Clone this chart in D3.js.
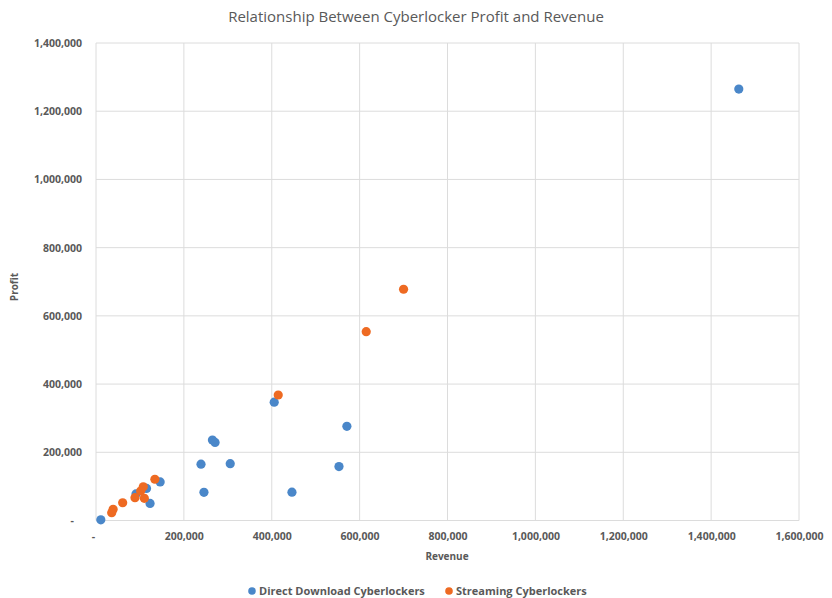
<!DOCTYPE html>
<html><head><meta charset="utf-8">
<script src="https://cdn.jsdelivr.net/npm/d3@7"></script>
<style>body{margin:0;background:#fff}svg{display:block}</style>
</head><body><svg id="c" width="832" height="598"></svg>
<script>
const title = "Relationship Between Cyberlocker Profit and Revenue";
const seriesNames = ["Direct Download Cyberlockers", "Streaming Cyberlockers"];
const colors = ["#4a87c9", "#ee6a22"];
const xTicks = [0,200000,400000,600000,800000,1000000,1200000,1400000,1600000];
const yTicks = [0,200000,400000,600000,800000,1000000,1200000,1400000];
const directRevenue = [11000,1463000,405600,571000,553000,446000,265000,271000,239000,305500,245700,146000,115000,123000,91000];
const directProfit  = [2000,1265000,347000,276000,158000,83000,236000,229000,165000,166500,82700,113000,94000,50000,78000];
const streamRevenue = [700000,615000,414700,134000,107600,101700,88700,110000,60700,39000,35700];
const streamProfit  = [678000,553500,368000,121000,99000,86500,67000,65000,52000,33000,23000];

const svg = d3.select("#c");
const x = d3.scaleLinear().domain([0,1600000]).range([96,799]);
const y = d3.scaleLinear().domain([0,1400000]).range([520.5,43]);
const fmt = v => v===0 ? "-" : d3.format(",")(v);
const font = "'Open Sans', sans-serif";
const grey = "#595959";

svg.append("g").selectAll("line").data(yTicks).join("line")
  .attr("x1",96).attr("x2",799).attr("y1",d=>y(d)).attr("y2",d=>y(d))
  .attr("stroke","#dcdcdc").attr("stroke-width",1);
svg.append("g").selectAll("line").data(xTicks).join("line")
  .attr("y1",43).attr("y2",520.5).attr("x1",d=>x(d)).attr("x2",d=>x(d))
  .attr("stroke","#dcdcdc").attr("stroke-width",1);

const yAxis = svg.append("g").attr("transform","translate(96,0)")
  .call(d3.axisLeft(y).tickValues(yTicks).tickFormat(fmt).tickSize(0).tickPadding(14));
yAxis.select(".domain").remove();
yAxis.selectAll("text").attr("font-family",font).attr("font-size",10.5).attr("font-weight","bold").attr("fill",grey)
  .attr("dx",d=>d===0?-8:0);

const xAxis = svg.append("g").attr("transform","translate(0,520.5)")
  .call(d3.axisBottom(x).tickValues(xTicks).tickFormat(fmt).tickSize(0).tickPadding(12));
xAxis.select(".domain").remove();
xAxis.selectAll("text").attr("font-family",font).attr("font-size",10.5).attr("font-weight","bold").attr("fill",grey)
  .attr("dx",d=>d===0?-3:0);

svg.append("text").attr("x",416).attr("y",22).attr("text-anchor","middle")
  .attr("font-family",font).attr("font-size",15).attr("fill",grey).text(title);
svg.append("text").attr("x",447).attr("y",560).attr("text-anchor","middle")
  .attr("font-family",font).attr("font-size",10).attr("font-weight","bold").attr("fill",grey).text("Revenue");
svg.append("text").attr("transform","translate(18,287) rotate(-90)").attr("text-anchor","middle")
  .attr("font-family",font).attr("font-size",10).attr("font-weight","bold").attr("fill",grey).text("Profit");

const series = [
  {rev: directRevenue, prof: directProfit},
  {rev: streamRevenue, prof: streamProfit}
];
series.forEach((s,i)=>{
  svg.append("g").selectAll("circle").data(s.rev.map((r,j)=>[r,s.prof[j]])).join("circle")
    .attr("cx",d=>x(d[0])).attr("cy",d=>y(d[1])).attr("r",4.6).attr("fill",colors[i]);
});

const legX = [252, 449];
seriesNames.forEach((n,i)=>{
  svg.append("circle").attr("cx",legX[i]).attr("cy",591).attr("r",3.8).attr("fill",colors[i]);
  svg.append("text").attr("x",legX[i]+7).attr("y",595).attr("font-family",font).attr("font-size",11)
    .attr("font-weight","bold").attr("fill",grey).text(n);
});
</script></body></html>
